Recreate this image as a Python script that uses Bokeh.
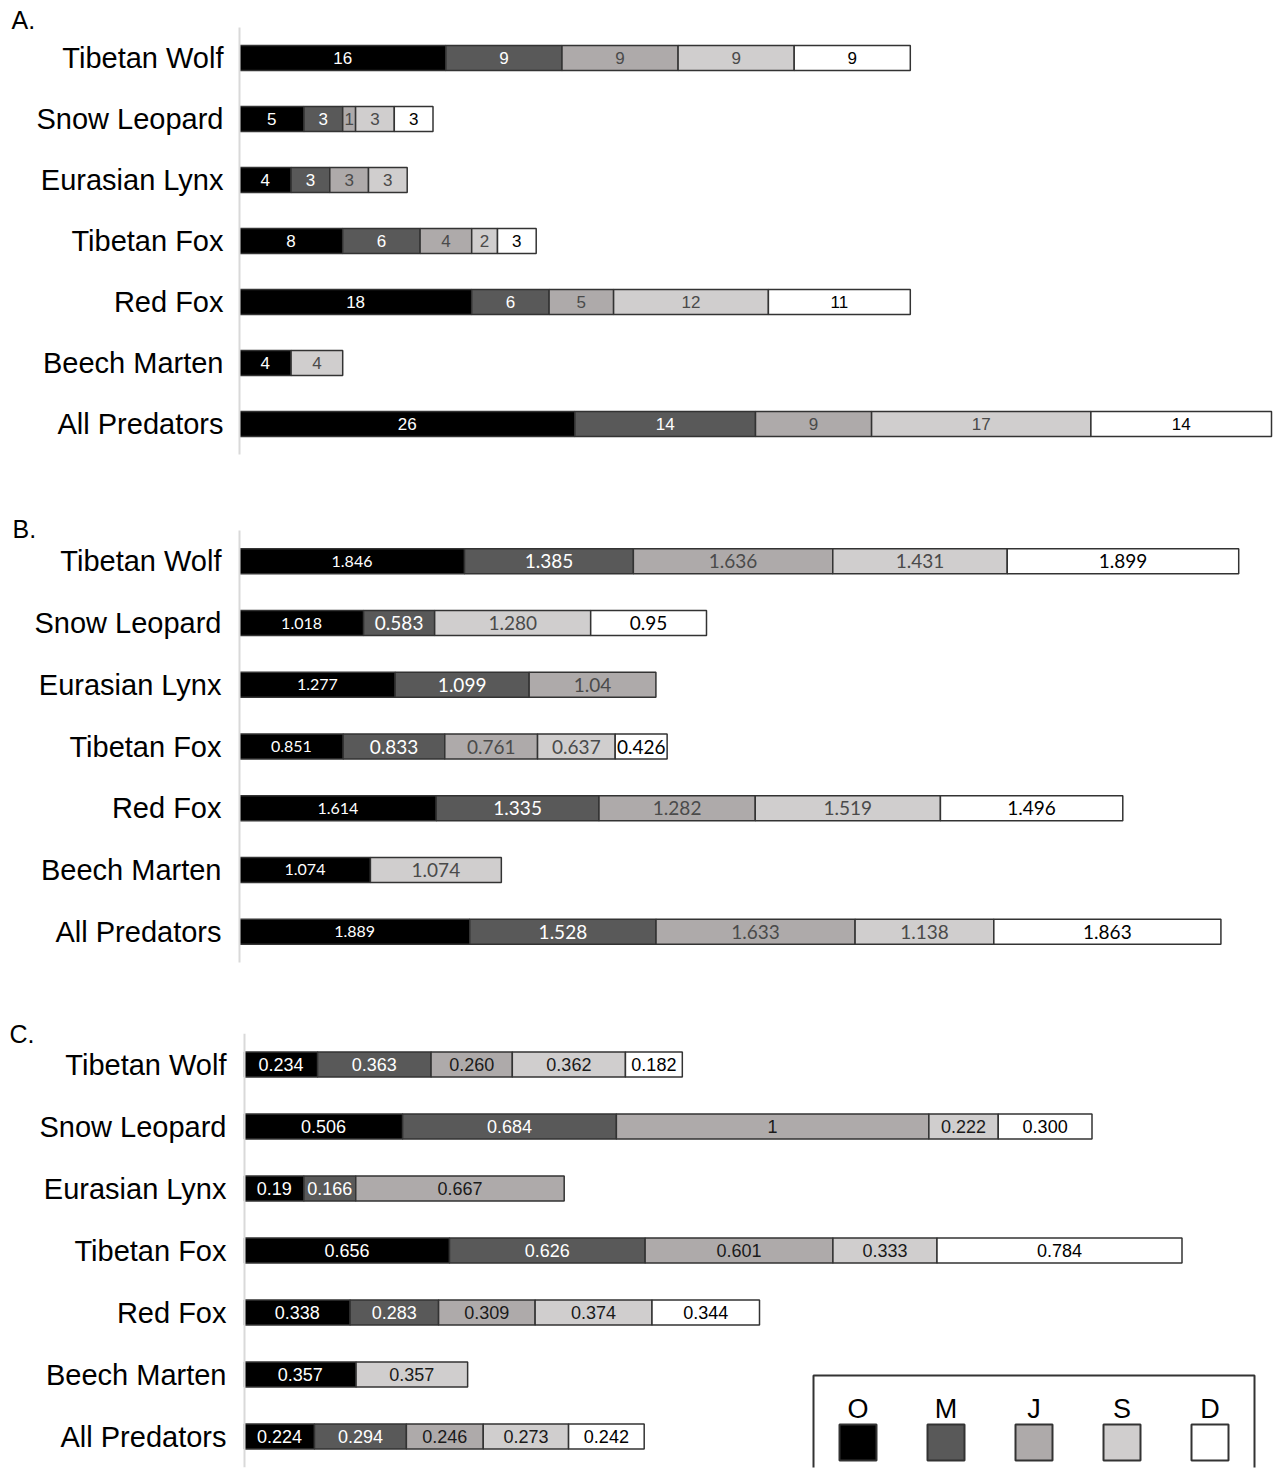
from bokeh.plotting import figure
from bokeh.layouts import column
from bokeh.models import ColumnDataSource, FactorRange, Range1d, Label, BoxAnnotation, Span
from bokeh.core.properties import value
from bokeh.embed import file_html
from bokeh.resources import INLINE

categories = ["Tibetan Wolf", "Snow Leopard", "Eurasian Lynx", "Tibetan Fox",
              "Red Fox", "Beech Marten", "All Predators"]
series = ["O", "M", "J", "S", "D"]
colors = ["#000000", "#595959", "#aeaaaa", "#d0cece", "#ffffff"]

# Panel A (counts); "" = no segment
a_O = ["16", "5", "4", "8", "18", "4", "26"]
a_M = ["9", "3", "3", "6", "6", "", "14"]
a_J = ["9", "1", "3", "4", "5", "", "9"]
a_S = ["9", "3", "3", "2", "12", "4", "17"]
a_D = ["9", "3", "", "3", "11", "", "14"]

# Panel B
b_O = ["1.846", "1.018", "1.277", "0.851", "1.614", "1.074", "1.889"]
b_M = ["1.385", "0.583", "1.099", "0.833", "1.335", "", "1.528"]
b_J = ["1.636", "", "1.04", "0.761", "1.282", "", "1.633"]
b_S = ["1.431", "1.280", "", "0.637", "1.519", "1.074", "1.138"]
b_D = ["1.899", "0.95", "", "0.426", "1.496", "", "1.863"]

# Panel C
c_O = ["0.234", "0.506", "0.19", "0.656", "0.338", "0.357", "0.224"]
c_M = ["0.363", "0.684", "0.166", "0.626", "0.283", "", "0.294"]
c_J = ["0.260", "1", "0.667", "0.601", "0.309", "", "0.246"]
c_S = ["0.362", "0.222", "", "0.333", "0.374", "0.357", "0.273"]
c_D = ["0.182", "0.300", "", "0.784", "0.344", "", "0.242"]

W = 1277
LEFT = 239          # frame left edge (shared by the stacked panels)
FRAME_W = W - LEFT


def make_panel(letter, data, px_per_unit, lead_px, height, border_top, border_bottom,
               num_font, num_sizes, txt_cols, label_standoff, bar_h, title_off, title_standoff):
    x0 = -lead_px / px_per_unit
    p = figure(width=W, height=height, output_backend="svg", toolbar_location=None,
               y_range=FactorRange(factors=list(reversed(categories))),
               x_range=Range1d(x0, x0 + FRAME_W / px_per_unit), x_axis_location=None,
               min_border_top=border_top, min_border_bottom=border_bottom,
               min_border_left=LEFT, min_border_right=0,
               title=letter, title_location="above")
    p.title.align = "left"
    p.title.offset = title_off - LEFT
    p.title.standoff = title_standoff
    p.title.text_font = "Liberation Sans"
    p.title.text_font_size = "25px"
    p.title.text_font_style = "normal"
    p.title.text_color = "#000000"
    p.outline_line_color = None
    p.xgrid.visible = False
    p.ygrid.visible = False
    ax = p.yaxis[0]
    ax.axis_line_color = "#d9d9d9" if lead_px == 0 else None
    ax.axis_line_width = 2
    ax.major_tick_line_color = None
    ax.minor_tick_line_color = None
    ax.major_tick_out = 0
    ax.major_tick_in = 0
    ax.minor_tick_out = 0
    ax.major_label_text_font = "Liberation Sans"
    ax.major_label_text_font_size = "29px"
    ax.major_label_text_color = "#000000"
    ax.major_label_standoff = label_standoff
    if lead_px != 0:
        p.add_layout(Span(location=0, dimension="height", line_color="#d9d9d9", line_width=2))

    cum = [0.0] * len(categories)
    for k, s in enumerate(series):
        ys, lefts, rights, mids, lbls = [], [], [], [], []
        for i, c in enumerate(categories):
            t = data[s][i]
            if t == "":
                continue
            v = float(t)
            ys.append(c)
            lefts.append(cum[i])
            rights.append(cum[i] + v)
            mids.append(cum[i] + v / 2)
            lbls.append(t)
            cum[i] += v
        src = ColumnDataSource(dict(y=ys, left=lefts, right=rights, mid=mids, lbl=lbls))
        p.hbar(y="y", left="left", right="right", height=bar_h, source=src,
               fill_color=colors[k], line_color="#333333", line_width=1.5)
        p.text(x="mid", y="y", text="lbl", source=src, text_align="center",
               text_baseline="middle", text_color=txt_cols[k],
               text_font=value(num_font), text_font_size=num_sizes[k])
    return p


pA = make_panel("A.", dict(O=a_O, M=a_M, J=a_J, S=a_S, D=a_D), 12.9, 0, 490, 27, 36,
                "Liberation Sans", ["17px"] * 5,
                ["#ffffff", "#ffffff", "#4a4a4a", "#4a4a4a", "#000000"], 16, 0.41, 11, -12)
pB = make_panel("B.", dict(O=b_O, M=b_M, J=b_J, S=b_S, D=b_D), 121.9, 0, 502, 40, 30,
                "Lato", ["16px", "19px", "19px", "19px", "19px"],
                ["#ffffff", "#ffffff", "#4a4a4a", "#4a4a4a", "#000000"], 18, 0.405, 12, -25)
pC = make_panel("C.", dict(O=c_O, M=c_M, J=c_J, S=c_S, D=c_D), 312.5, 5, 479, 41, 4,
                "Liberation Sans", ["18px"] * 5,
                ["#ffffff", "#ffffff", "#1a1a1a", "#1a1a1a", "#000000"], 13, 0.40, 9, -28)

# legend (panel C canvas coordinates)
pC.add_layout(BoxAnnotation(left=813, right=1254, top=383, bottom=520,
                            left_units="canvas", right_units="canvas",
                            top_units="canvas", bottom_units="canvas",
                            fill_color="#ffffff", fill_alpha=1.0,
                            line_color="#333333", line_width=2, line_alpha=1.0))
for k, s in enumerate(series):
    x0 = 839 + k * 88
    pC.add_layout(BoxAnnotation(left=x0, right=x0 + 37, top=432, bottom=468,
                                left_units="canvas", right_units="canvas",
                                top_units="canvas", bottom_units="canvas",
                                fill_color=colors[k], fill_alpha=1.0,
                                line_color="#333333", line_width=2, line_alpha=1.0))
    pC.add_layout(Label(x=x0 + 18.5, y=416, x_units="canvas", y_units="canvas", text=s,
                        text_font="Liberation Sans", text_font_size="27px",
                        text_baseline="middle", text_align="center", text_color="#000000"))

layout = column(pA, pB, pC, spacing=0)
open("out.html", "w").write(file_html(layout, INLINE))
